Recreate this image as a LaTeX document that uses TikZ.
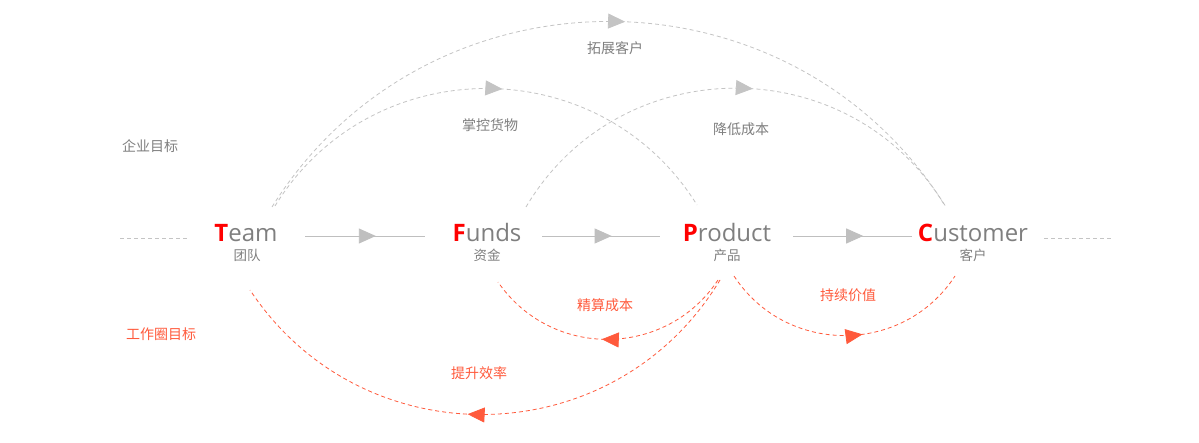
\documentclass[tikz,border=0pt]{standalone}
\usepackage{fontspec}
\setmainfont{Open Sans}
\newfontfamily\cjk{Noto Sans CJK SC}
\usetikzlibrary{arrows.meta,decorations.markings}
\definecolor{gtxt}{HTML}{7F7F7F}
\definecolor{gline}{HTML}{BFBFBF}
\definecolor{garc}{HTML}{C4C4C4}
\definecolor{ored}{HTML}{FF5A3C}
\definecolor{pred}{HTML}{FF0000}
\begin{document}
\begin{tikzpicture}[x=1pt,y=1pt,
  word/.style={anchor=base, inner sep=0pt, font=\fontsize{24}{24}\selectfont, text=gtxt},
  sub/.style={inner sep=0pt, font=\cjk\fontsize{13.5}{13.5}\selectfont, text=gtxt},
  lbl/.style={inner sep=0pt, font=\cjk\fontsize{14}{14}\selectfont, text=gtxt},
  olbl/.style={lbl, text=ored},
  flow/.style={draw=gline, line width=0.9pt, postaction={decorate},
    decoration={markings, mark=at position 0.59 with {\arrow{Triangle[length=17pt,width=15pt,color=gline]}}}},
  side/.style={draw=garc, line width=0.8pt, dash pattern=on 4pt off 3pt},
  garcs/.style={draw=garc, line width=0.8pt, dash pattern=on 4pt off 3pt, postaction={decorate},
    decoration={markings, mark=at position #1 with {\arrow{Triangle[length=17pt,width=15pt,color=garc]}}}},
  oarcs/.style={draw=ored, line width=0.8pt, dash pattern=on 4pt off 3pt, postaction={decorate},
    decoration={markings, mark=at position #1 with {\arrow{Triangle[length=17pt,width=15pt,color=ored]}}}}
]
\fill[white] (0,0) rectangle (1199,-443);
\useasboundingbox (0,0) rectangle (1199,-443);

% main words
\node[word] (team) at (246,-241.5) {\textcolor{pred}{\textbf{T}}eam};
\node[word] (funds) at (487,-241.5) {\textcolor{pred}{\textbf{F}}unds};
\node[word] (product) at (727,-241.5) {\textcolor{pred}{\textbf{P}}roduct};
\node[word] (customer) at (973,-241.5) {\textcolor{pred}{\textbf{C}}ustomer};
\node[sub] (teamz) at (247,-255) {团队};
\node[sub] (fundsz) at (487,-255) {资金};
\node[sub] (productz) at (727,-255) {产品};
\node[sub] (customerz) at (973,-255) {客户};

% side labels
\node[lbl] (qiye) at (150,-146) {企业目标};
\node[olbl] (gzq) at (161,-334) {工作圈目标};

% horizontal flow
\coordinate (a1) at (305,-236); \coordinate (b1) at (425,-236);
\coordinate (a2) at (542,-236); \coordinate (b2) at (660,-236);
\coordinate (a3) at (793,-236); \coordinate (b3) at (912,-236);
\draw[flow] (a1) -- (b1);
\draw[flow] (a2) -- (b2);
\draw[flow] (a3) -- (b3);

% side dashed
\coordinate (l1) at (120,-238); \coordinate (l2) at (187,-238);
\coordinate (r1) at (1044,-238); \coordinate (r2) at (1111,-238);
\draw[side] (l1) -- (l2);
\draw[side] (r1) -- (r2);

% upper arcs
\coordinate (u1s) at (272,-207); \coordinate (u1e) at (946,-207);
\coordinate (u2s) at (275,-206); \coordinate (u2e) at (697,-205);
\coordinate (u3s) at (526,-207); \coordinate (u3e) at (945,-206);
\draw[garcs=0.52] (u1s) to[bend left=58, looseness=1.11] (u1e);
\draw[garcs=0.533] (u2s) to[bend left=58.3, looseness=1.11] (u2e);
\draw[garcs=0.535] (u3s) to[bend left=59.2, looseness=1.12] (u3e);
\node[lbl] (tz) at (615,-48) {拓展客户};
\node[lbl] (zk) at (490,-125) {掌控货物};
\node[lbl] (jd) at (741,-129) {降低成本};

% lower arcs
\coordinate (d1s) at (720,-280); \coordinate (d1e) at (250,-290);
\coordinate (d2s) at (718,-280); \coordinate (d2e) at (498,-282);
\coordinate (d3s) at (734,-276); \coordinate (d3e) at (955,-276);
\draw[oarcs=0.536] (d1s) to[bend left=57.7, looseness=1.11] (d1e);
\draw[oarcs=0.526] (d2s) to[bend left=56, looseness=1.09] (d2e);
\draw[oarcs=0.569] (d3s) to[bend right=56.9, looseness=1.10] (d3e);
\node[olbl] (ts) at (479,-373) {提升效率};
\node[olbl] (js) at (605,-305) {精算成本};
\node[olbl] (cx) at (848,-295) {持续价值};
\end{tikzpicture}
\end{document}
